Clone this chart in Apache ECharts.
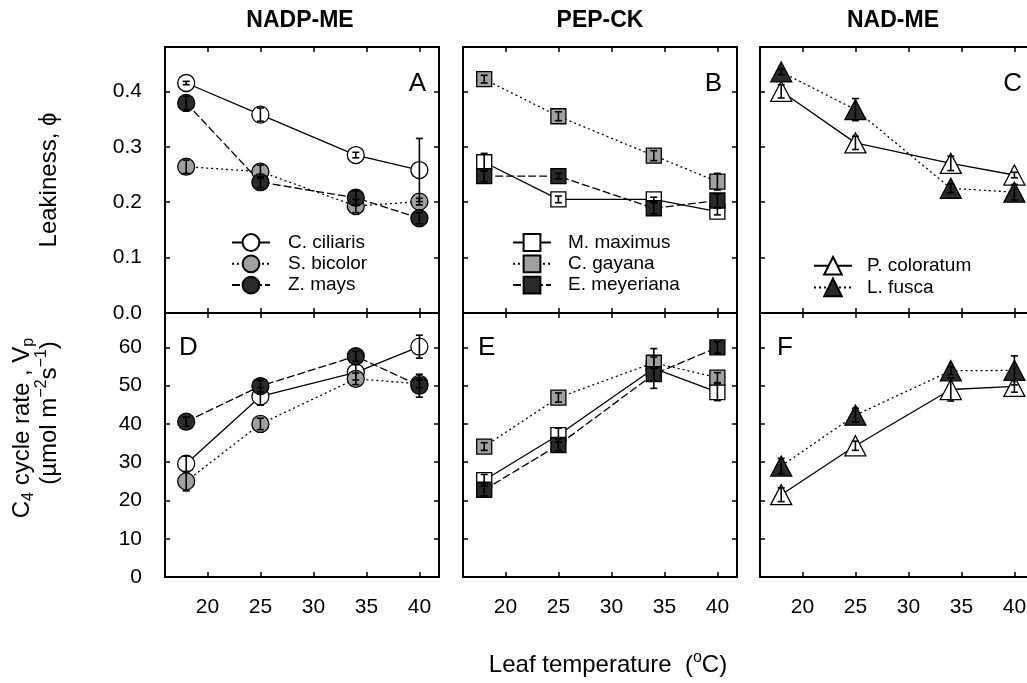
<!DOCTYPE html>
<html>
<head>
<meta charset="utf-8">
<title>Leakiness and C4 cycle rate vs leaf temperature</title>
<script src="https://cdn.jsdelivr.net/npm/echarts@6/dist/echarts.min.js"></script>
<style>
  html, body { margin: 0; padding: 0; background: #fff; }
  #chart { width: 1027px; height: 683px; }
</style>
</head>
<body>
<div id="chart"></div>
<script>
// ---- data ----
const temps = [18, 25, 34, 40];
const xTicks = [20, 25, 30, 35, 40];
const leakTicks = [0, 0.1, 0.2, 0.3, 0.4];
const rateTicks = [0, 10, 20, 30, 40, 50, 60];
const groupNames = ['NADP-ME', 'PEP-CK', 'NAD-ME'];
const topLetters = ['A', 'B', 'C'];
const bottomLetters = ['D', 'E', 'F'];

// NADP-ME
const ciliarisLeak = [0.415, 0.358, 0.285, 0.258];
const ciliarisLeakErr = [0.003, 0.012, 0.005, 0.057];
const ciliarisRate = [29.6, 47.2, 53.5, 60.2];
const ciliarisRateErr = [2.0, 2.3, 2.0, 3.0];
const bicolorLeak = [0.264, 0.255, 0.193, 0.201];
const bicolorLeakErr = [0.012, 0.012, 0.012, 0.006];
const bicolorRate = [25.0, 40.0, 51.8, 50.5];
const bicolorRateErr = [2.5, 1.5, 1.5, 1.0];
const maysLeak = [0.379, 0.236, 0.208, 0.171];
const maysLeakErr = [0.012, 0.010, 0.012, 0.010];
const maysRate = [40.6, 49.9, 57.7, 50.0];
const maysRateErr = [1.2, 1.5, 1.3, 3.0];

// PEP-CK
const maximusLeak = [0.272, 0.205, 0.205, 0.183];
const maximusLeakErr = [0.016, 0.006, 0.004, 0.006];
const maximusRate = [25.3, 37.1, 54.5, 48.3];
const maximusRateErr = [1.5, 1.8, 5.2, 2.2];
const gayanaLeak = [0.422, 0.355, 0.284, 0.237];
const gayanaLeakErr = [0.007, 0.008, 0.009, 0.015];
const gayanaRate = [34.1, 46.9, 56.0, 52.1];
const gayanaRateErr = [1.0, 1.2, 1.5, 1.3];
const meyerianaLeak = [0.247, 0.247, 0.189, 0.203];
const meyerianaLeakErr = [0.010, 0.005, 0.010, 0.012];
const meyerianaRate = [22.8, 34.5, 53.0, 60.0];
const meyerianaRateErr = [1.6, 1.5, 1.8, 1.5];

// NAD-ME
const coloratumLeak = [0.400, 0.307, 0.270, 0.249];
const coloratumLeakErr = [0.012, 0.012, 0.013, 0.005];
const coloratumRate = [21.5, 34.3, 49.0, 49.8];
const coloratumRateErr = [1.8, 1.2, 3.0, 1.5];
const fuscaLeak = [0.435, 0.367, 0.225, 0.218];
const fuscaLeakErr = [0.005, 0.020, 0.008, 0.014];
const fuscaRate = [29.0, 42.3, 53.9, 54.0];
const fuscaRateErr = [2.0, 1.8, 1.0, 3.8];

const speciesByGroup = [
  [
    { name: 'C. ciliaris', leak: ciliarisLeak, leakErr: ciliarisLeakErr, rate: ciliarisRate, rateErr: ciliarisRateErr },
    { name: 'S. bicolor', leak: bicolorLeak, leakErr: bicolorLeakErr, rate: bicolorRate, rateErr: bicolorRateErr },
    { name: 'Z. mays', leak: maysLeak, leakErr: maysLeakErr, rate: maysRate, rateErr: maysRateErr }
  ],
  [
    { name: 'M. maximus', leak: maximusLeak, leakErr: maximusLeakErr, rate: maximusRate, rateErr: maximusRateErr },
    { name: 'C. gayana', leak: gayanaLeak, leakErr: gayanaLeakErr, rate: gayanaRate, rateErr: gayanaRateErr },
    { name: 'E. meyeriana', leak: meyerianaLeak, leakErr: meyerianaLeakErr, rate: meyerianaRate, rateErr: meyerianaRateErr }
  ],
  [
    { name: 'P. coloratum', leak: coloratumLeak, leakErr: coloratumLeakErr, rate: coloratumRate, rateErr: coloratumRateErr },
    { name: 'L. fusca', leak: fuscaLeak, leakErr: fuscaLeakErr, rate: fuscaRate, rateErr: fuscaRateErr }
  ]
];

// ---- styling ----
const font = '"Liberation Sans", Arial, Helvetica, sans-serif';
const OPEN = '#ffffff';
const GREY = '#a0a0a0';
const DARK = '#2a2a2a';
const DOTTED = [2, 3];
const DASHED = [8, 3];
const styleOf = {
  'C. ciliaris': { fill: OPEN, dash: 'solid' },
  'S. bicolor': { fill: GREY, dash: DOTTED },
  'Z. mays': { fill: DARK, dash: DASHED },
  'M. maximus': { fill: OPEN, dash: 'solid' },
  'C. gayana': { fill: GREY, dash: DOTTED },
  'E. meyeriana': { fill: DARK, dash: DASHED },
  'P. coloratum': { fill: OPEN, dash: 'solid' },
  'L. fusca': { fill: DARK, dash: DOTTED }
};
const markerShape = ['circle', 'rect', 'triangle'];
const markerSize = [17, 15, [21, 20]];

const colLeft = [165, 463, 760];
const rowTop = [47, 313];
const rowHeight = [266, 264];
const panelWidth = 274;

const renderErrorBar = (params, api) => {
  const x = api.value(0);
  const y = api.value(1);
  const e = api.value(2);
  const hi = api.coord([x, y + e]);
  const lo = api.coord([x, y - e]);
  const half = 3.5;
  const style = { stroke: '#000', lineWidth: 1.6 };
  return {
    type: 'group',
    children: [
      { type: 'line', shape: { x1: hi[0], y1: hi[1], x2: lo[0], y2: lo[1] }, style },
      { type: 'line', shape: { x1: hi[0] - half, y1: hi[1], x2: hi[0] + half, y2: hi[1] }, style },
      { type: 'line', shape: { x1: lo[0] - half, y1: lo[1], x2: lo[0] + half, y2: lo[1] }, style }
    ]
  };
};

const grids = [];
const xAxes = [];
const yAxes = [];
const series = [];

const axisLine = { show: true, onZero: false, lineStyle: { color: '#000', width: 2 } };
const labelStyle = { color: '#000', fontSize: 21, fontFamily: font };

[0, 1].forEach(row => {
  [0, 1, 2].forEach(col => {
    const p = row * 3 + col;
    grids.push({
      left: colLeft[col], top: rowTop[row], width: panelWidth, height: rowHeight[row],
      outerBoundsMode: 'none', containLabel: false
    });
    const yTicks = row === 0 ? leakTicks : rateTicks;
    const yMax = row === 0 ? 0.48 : 69;
    ['bottom', 'top'].forEach(pos => {
      xAxes.push({
        type: 'value', gridIndex: p, position: pos, min: 16, max: 41.85,
        axisLine,
        axisTick: { show: true, inside: true, length: 5, customValues: xTicks, lineStyle: { color: '#000', width: 1.5 } },
        axisLabel: Object.assign({ show: pos === 'bottom' && row === 1, customValues: xTicks, margin: 20 }, labelStyle),
        splitLine: { show: false }
      });
    });
    ['left', 'right'].forEach(pos => {
      yAxes.push({
        type: 'value', gridIndex: p, position: pos, min: 0, max: yMax,
        axisLine,
        axisTick: { show: true, inside: true, length: 5, customValues: yTicks, lineStyle: { color: '#000', width: 1.5 } },
        axisLabel: Object.assign({
          show: pos === 'left' && col === 0, customValues: yTicks, margin: 23,
          formatter: v => (row === 0 ? v.toFixed(1) : String(v))
        }, labelStyle),
        splitLine: { show: false }
      });
    });

    speciesByGroup[col].forEach(sp => {
      const vals = row === 0 ? sp.leak : sp.rate;
      const errs = row === 0 ? sp.leakErr : sp.rateErr;
      const st = styleOf[sp.name];
      series.push({
        type: 'line', name: sp.name, xAxisIndex: 2 * p, yAxisIndex: 2 * p,
        data: temps.map((t, i) => [t, vals[i]]),
        symbol: markerShape[col], symbolSize: markerSize[col],
        lineStyle: { color: '#000', width: 1.3, type: st.dash },
        itemStyle: { color: st.fill, borderColor: '#000', borderWidth: 1.3 },
        emphasis: { disabled: true }, silent: true, z: 2
      });
      series.push({
        type: 'custom', name: sp.name + ' error', xAxisIndex: 2 * p, yAxisIndex: 2 * p,
        data: temps.map((t, i) => [t, vals[i], errs[i]]),
        encode: { x: 0, y: 1 }, renderItem: renderErrorBar, silent: true, z: 3
      });
    });
  });
});

const legendLeft = [231, 512, 813];
const legendTop = [233, 233, 256];
const legendTextPad = [13, 12, 10];
const legends = speciesByGroup.map((list, col) => ({
  data: list.map(s => s.name),
  orient: 'vertical', left: legendLeft[col], top: legendTop[col], padding: 0,
  itemWidth: 38, itemHeight: col === 2 ? 22 : 21, itemGap: col === 2 ? 2 : 2.3,
  selectedMode: false,
  textStyle: { color: '#000', fontSize: 19, fontFamily: font, padding: [0, 0, 0, legendTextPad[col]] }
}));

const graphics = [];
const titleX = [300, 600, 893];
groupNames.forEach((g, i) => {
  graphics.push({ type: 'text', x: titleX[i], y: 21,
    style: { text: g, fill: '#000', font: 'bold 23px ' + font, textAlign: 'center', textVerticalAlign: 'middle' } });
});
const topLetterX = [426, 722, 1022];
topLetters.forEach((l, i) => {
  graphics.push({ type: 'text', x: topLetterX[i], y: 84,
    style: { text: l, fill: '#000', font: '26px ' + font, textAlign: 'right', textVerticalAlign: 'middle' } });
});
const bottomLetterX = [179, 478, 777];
bottomLetters.forEach((l, i) => {
  graphics.push({ type: 'text', x: bottomLetterX[i], y: 348,
    style: { text: l, fill: '#000', font: '26px ' + font, textAlign: 'left', textVerticalAlign: 'middle' } });
});
const richText = {
  n: { fontSize: 24, fontFamily: font, fill: '#000', lineHeight: 30 },
  sub: { fontSize: 16, fontFamily: font, fill: '#000', verticalAlign: 'bottom', lineHeight: 16 },
  sup: { fontSize: 16, fontFamily: font, fill: '#000', verticalAlign: 'top', lineHeight: 16 }
};
graphics.push({ type: 'text', x: 49, y: 180, rotation: Math.PI / 2,
  style: { text: 'Leakiness, ϕ', fill: '#000', font: '24px ' + font, textAlign: 'center', textVerticalAlign: 'middle' } });
graphics.push({ type: 'text', x: 22, y: 428, rotation: Math.PI / 2,
  style: { text: '{n|C}{sub|4}{n| cycle rate , V}{sub|p}', rich: richText, textAlign: 'center', textVerticalAlign: 'middle' } });
graphics.push({ type: 'text', x: 49, y: 413, rotation: Math.PI / 2,
  style: { text: '{n|(µmol m}{sup|−2}{n|s}{sup|−1}{n|)}', rich: richText, textAlign: 'center', textVerticalAlign: 'middle' } });
graphics.push({ type: 'text', x: 608, y: 665,
  style: { text: '{n|Leaf temperature  (}{sup|o}{n|C)}', rich: richText, textAlign: 'center', textVerticalAlign: 'middle' } });

const chart = echarts.init(document.getElementById('chart'), null, { renderer: 'canvas' });
chart.setOption({
  animation: false,
  backgroundColor: '#ffffff',
  grid: grids,
  xAxis: xAxes,
  yAxis: yAxes,
  legend: legends,
  series,
  graphic: graphics
});
</script>
</body>
</html>
